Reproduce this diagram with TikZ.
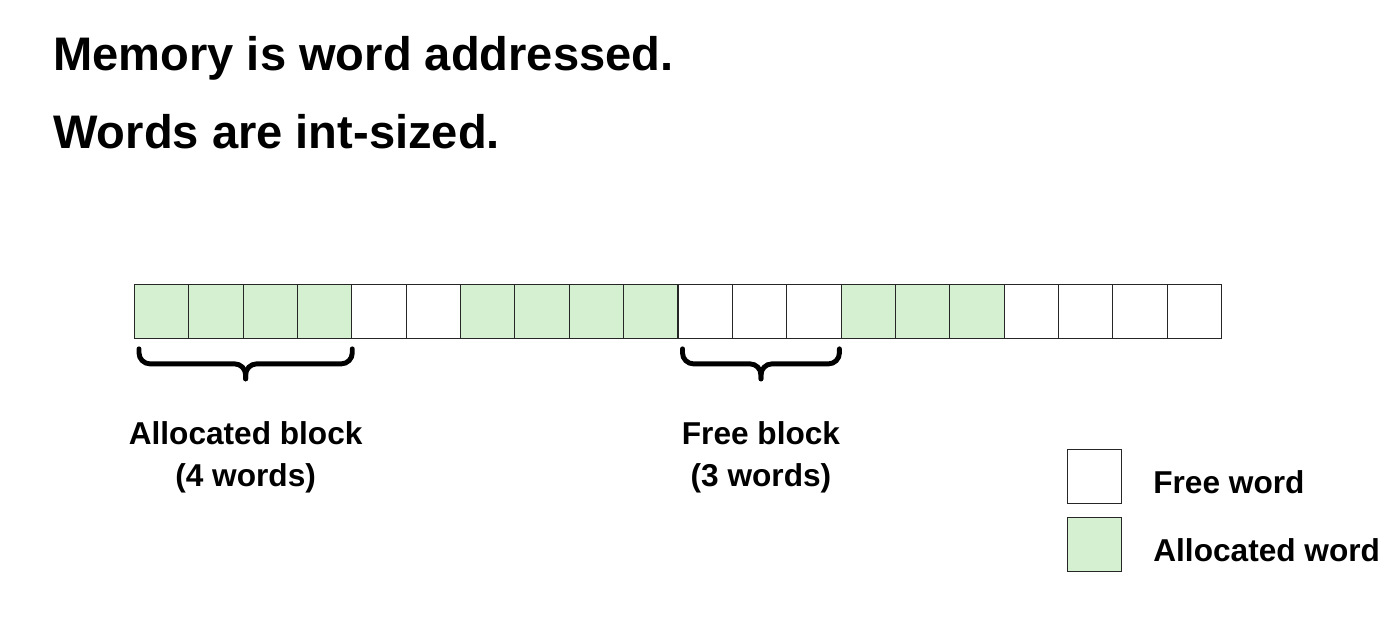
\documentclass[tikz,border=0pt]{standalone}
\usepackage{fontspec}
\setmainfont{Liberation Sans}
\usetikzlibrary{positioning, calc}
\definecolor{allocgreen}{HTML}{D5F0D0}

\begin{document}
\begin{tikzpicture}[x=0.02cm, y=-0.02cm,
  word/.style={draw=black!85, line width=0.5pt, minimum width=1.087cm,
               minimum height=1.08cm, inner sep=0pt, anchor=north west},
  freeword/.style={word, fill=white},
  allocword/.style={word, fill=allocgreen},
  headline/.style={font=\fontsize{26.8}{32}\selectfont\bfseries, anchor=base west, inner sep=0pt},
  blocklbl/.style={font=\fontsize{18}{24}\selectfont\bfseries, align=center,
                   anchor=north, inner sep=0pt},
  keylbl/.style={font=\fontsize{18}{24}\selectfont\bfseries, anchor=base west, inner sep=0pt},
  brc/.style={line width=2.8pt, line cap=round, rounded corners=0.22cm},
]
\useasboundingbox (0,0) rectangle (1399,626);

% ---- Headlines ----
\node[headline] (head1) at (53,70) {Memory is word addressed.};
\node[headline] (head2) at (53,148) {Words are int-sized.};

% ---- Memory words ----
\foreach \i/\kind in {1/alloc,2/alloc,3/alloc,4/alloc,5/free,6/free,
                      7/alloc,8/alloc,9/alloc,10/alloc,11/free,12/free,13/free,
                      14/alloc,15/alloc,16/alloc,17/free,18/free,19/free,20/free}
  \node[\kind word] (w\i) at ({134+(\i-1)*54.35},284) {};

% ---- Braces ----
\coordinate (allocL) at ($(w1.south west)+(5,10)$);
\coordinate (allocR) at ($(w4.south east)+(0,10)$);
\coordinate (allocmid) at ($(allocL)!0.5!(allocR)$);
\draw[brc] (allocL) |- ($(allocmid)+(0,15)$) -- ($(allocmid)+(0,30)$);
\draw[brc] (allocR) |- ($(allocmid)+(0,15)$) -- ($(allocmid)+(0,30)$);

\coordinate (freeL) at ($(w11.south west)+(5,10)$);
\coordinate (freeR) at ($(w13.south east)+(-2,10)$);
\coordinate (freemid) at ($(freeL)!0.5!(freeR)$);
\draw[brc] (freeL) |- ($(freemid)+(0,15)$) -- ($(freemid)+(0,30)$);
\draw[brc] (freeR) |- ($(freemid)+(0,15)$) -- ($(freemid)+(0,30)$);

% ---- Block labels ----
\node[blocklbl] (alloclbl) at ($(allocmid)+(0,72)$) {Allocated block\\(4 words)};
\node[blocklbl] (freelbl) at ($(freemid)+(0,72)$) {Free block\\(3 words)};

% ---- Key ----
\node[freeword] (keyfree) at (1067,449) {};
\node[allocword] (keyalloc) at (1067,517) {};
\node[keylbl] (keyfreelbl) at (1153,493) {Free word};
\node[keylbl] (keyalloclbl) at (1153,561) {Allocated word};

\end{tikzpicture}
\end{document}
